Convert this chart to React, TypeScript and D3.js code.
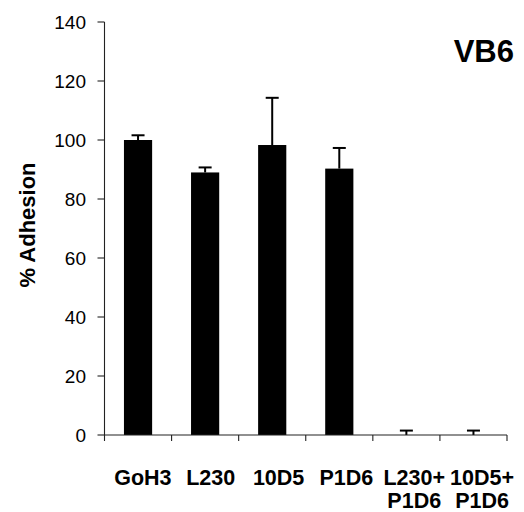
import React from "react";
import * as d3 from "d3";

const categories = ["GoH3", "L230", "10D5", "P1D6", "L230+\nP1D6", "10D5+\nP1D6"];
const values = [100, 89, 98.3, 90.3, 0, 0];
const errors = [1.6, 1.7, 16, 7, 1.5, 1.5];
const yTicks = [0, 20, 40, 60, 80, 100, 120, 140];
const title = "VB6";
const yLabel = "% Adhesion";

const W = 524;
const H = 512;
const margin = { left: 104.5, right: 17, top: 22, bottom: 77 };
const font = "'Liberation Sans', Arial, Helvetica, sans-serif";

export default function App() {
  const x = d3
    .scaleBand<string>()
    .domain(categories)
    .range([margin.left, W - margin.right])
    .paddingInner(0)
    .paddingOuter(0);
  const xLabel = d3
    .scaleBand<string>()
    .domain(categories)
    .range([109, 516]);
  const y = d3.scaleLinear().domain([0, 140]).range([H - margin.bottom, margin.top]);
  const bw = x.bandwidth() * 0.42;
  const y0 = y(0);
  const boundaries = d3.range(categories.length + 1).map((i) => margin.left + i * x.bandwidth());

  return (
    <svg
      width={W}
      height={H}
      style={{ position: "absolute", left: 0, top: 0, background: "#fff" }}
      fontFamily={font}
    >
      {categories.map((c, i) => {
        const cx = (x(c) as number) + x.bandwidth() / 2;
        return (
          <rect
            key={"b" + c}
            x={cx - bw / 2}
            y={y(values[i])}
            width={bw}
            height={y0 - y(values[i])}
            fill="#000"
          />
        );
      })}
      {categories.map((c, i) => {
        const cx = (x(c) as number) + x.bandwidth() / 2;
        const top = y(values[i] + errors[i]);
        return (
          <g key={"e" + c} stroke="#000" strokeWidth={2}>
            <line x1={cx} x2={cx} y1={y(values[i])} y2={top} />
            <line x1={cx - 6.5} x2={cx + 6.5} y1={top} y2={top} />
          </g>
        );
      })}
      <line x1={margin.left} x2={margin.left} y1={y(140)} y2={y0} stroke="#222" strokeWidth={1.1} />
      {yTicks.map((t) => (
        <g key={"yt" + t}>
          <line x1={margin.left - 7} x2={margin.left} y1={y(t)} y2={y(t)} stroke="#222" strokeWidth={1.1} />
          <text x={86} y={y(t)} dy="0.36em" textAnchor="end" fontSize={19} fill="#000">
            {t}
          </text>
        </g>
      ))}
      <line x1={margin.left} x2={W - margin.right} y1={y0} y2={y0} stroke="#222" strokeWidth={1.1} />
      {boundaries.map((bx, i) => (
        <line key={"xt" + i} x1={bx} x2={bx} y1={y0} y2={y0 + 6} stroke="#222" strokeWidth={1.1} />
      ))}
      {categories.map((c) => {
        const lines = c.split("\n");
        const cx = (xLabel(c) as number) + xLabel.bandwidth() / 2;
        return (
          <text key={"xl" + c} x={cx} y={485} textAnchor="middle" fontSize={21.5} fontWeight="bold" fill="#000">
            {lines.map((l, j) => (
              <tspan key={j} x={cx} dy={j === 0 ? 0 : 23}>
                {l}
              </tspan>
            ))}
          </text>
        );
      })}
      <text
        transform={`translate(35, 225) rotate(-90)`}
        textAnchor="middle"
        fontSize={22}
        fontWeight="bold"
        fill="#000"
      >
        {yLabel}
      </text>
      <text x={514} y={62} textAnchor="end" fontSize={31} fontWeight="bold" fill="#000">
        {title}
      </text>
    </svg>
  );
}
